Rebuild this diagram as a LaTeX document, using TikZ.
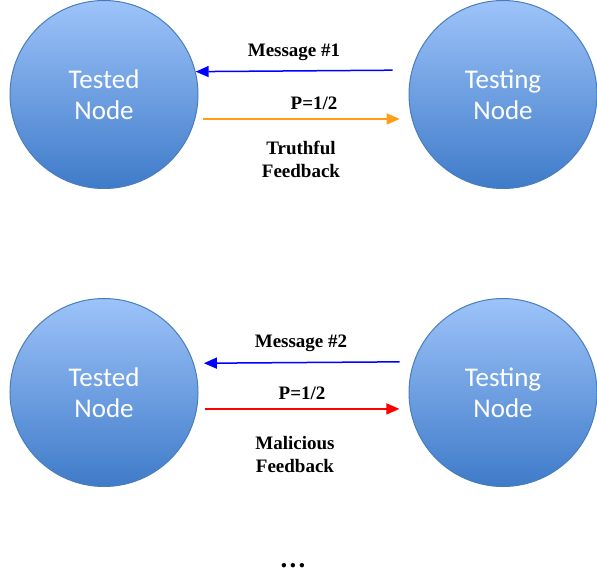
\documentclass[tikz,border=0pt]{standalone}
\usepackage{fontspec}
\setmainfont{Liberation Serif}
\newfontfamily\calfont{Carlito}
\usetikzlibrary{arrows.meta}
\definecolor{nodetop}{HTML}{9DC3F9}
\definecolor{nodebot}{HTML}{3F7BC9}
\definecolor{nodeline}{HTML}{4A7EBB}
\definecolor{fborange}{HTML}{FF9E1B}
\begin{document}
\begin{tikzpicture}[x=1pt,y=-1pt,
	agent/.style={circle,draw=nodeline,line width=1pt,top color=nodetop,bottom color=nodebot,
		minimum size=188pt,inner sep=0pt,text=white,align=center,font=\calfont\fontsize{27}{31}\selectfont},
	lbl/.style={align=center,anchor=base,inner sep=0pt,font=\bfseries\fontsize{19}{22.5}\selectfont}]
\useasboundingbox (0,0) rectangle (597,573);
		\begin{scope}[every node/.style=agent]
			\node (A1) at (104,94.5) {Tested\\Node};
			\node (B1) at (503,94.5) {Testing\\Node};
			\node (A2) at (104,392.5) {Tested\\Node};
			\node (B2) at (503,392.5) {Testing\\Node};
		\end{scope}

\begin{scope}[
	every edge/.style={draw,line width=1.5pt,-{Triangle[length=13pt,width=11pt]}}]
\path (B1.165.5) edge [draw=blue,shorten <=19pt] (A1.14.5);
\path (A1.-15) edge [draw=fborange,shorten <=8pt,shorten >=12pt] (B1.195);
\path (B2.161.1) edge [draw=blue,shorten <=14pt,shorten >=10pt] (A2.18.9);
\path (A2.-10.1) edge [draw=red,shorten <=7.5pt,shorten >=10.5pt] (B2.190.1);
\end{scope}

		\begin{scope}[every node/.style=lbl]
			\node (m1) at (294,56) {Message \#1};
			\node (p1) at (314,109) {P=1/2};
			\node (f1) at (301,177) {Truthful\\Feedback};
			\node (m2) at (301,347) {Message \#2};
			\node (p2) at (302,399) {P=1/2};
			\node (f2) at (295,472) {Malicious\\Feedback};
			\node (dots) at (293,567) {\fontsize{27}{30}\selectfont.\kern2.25pt.\kern2.25pt.};
		\end{scope}
	\end{tikzpicture}
\end{document}
